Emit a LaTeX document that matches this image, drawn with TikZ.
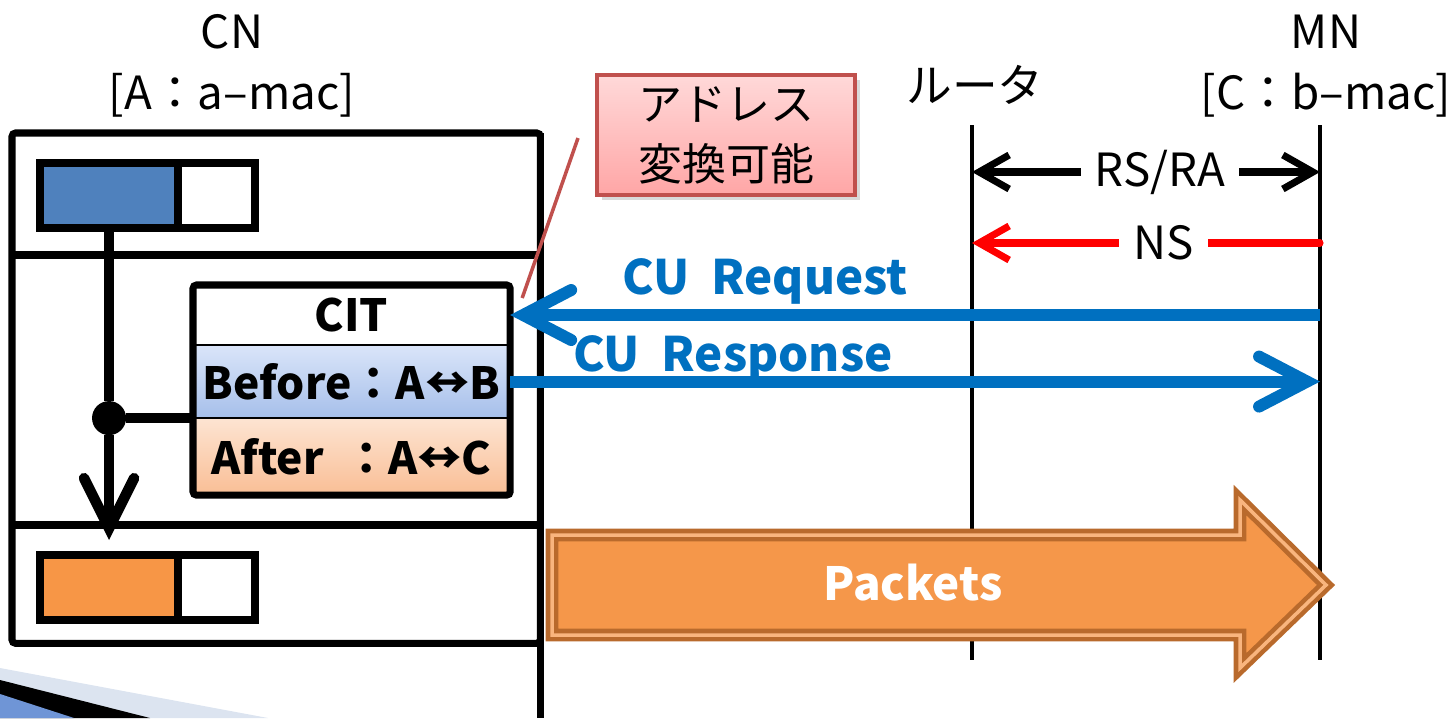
\documentclass[tikz,border=0pt]{standalone}
\usepackage{fontspec}
\setmainfont{Noto Sans CJK JP}
\usepackage{tikz}
\usetikzlibrary{arrows.meta,positioning,shadows,calc}

\definecolor{macblue}{HTML}{4F81BD}
\definecolor{macorange}{HTML}{F79646}
\definecolor{cublue}{HTML}{0070C0}
\definecolor{notered}{HTML}{C0504D}
\definecolor{pktedge}{HTML}{B96A2C}
\definecolor{pktfill}{HTML}{F5974A}
\definecolor{befTop}{HTML}{DAE5F9}
\definecolor{befBot}{HTML}{A6BFEA}
\definecolor{aftTop}{HTML}{FDE4D2}
\definecolor{aftBot}{HTML}{F9BE95}
\definecolor{decoblue}{HTML}{DCE4F0}
\definecolor{decomid}{HTML}{6F95D6}

\begin{document}
\begin{tikzpicture}[x=0.01cm, y=-0.01cm, every node/.style={align=center, inner sep=0pt, outer sep=0pt}]
\tikzset{
  lbl/.style={font=\fontsize{13}{17.5}\selectfont},
  cnframe/.style={draw=black, line width=2pt, rounded corners=1pt, minimum width=5.28cm, minimum height=5.10cm},
  frame/.style={draw=black, line width=2pt},
  macpart/.style={draw=black, line width=2.3pt, minimum width=1.38cm, minimum height=0.65cm},
  padpart/.style={draw=black, line width=2.3pt, fill=white, minimum width=0.77cm, minimum height=0.65cm},
  citrow/.style={draw=black, line width=0.8pt, minimum width=3.17cm, font=\bfseries\fontsize{12.6}{15}\selectfont},
  junction/.style={circle, fill=black, minimum size=0.34cm},
  life/.style={draw=black, line width=1.3pt},
  ctl/.style={draw=black, line width=2pt, line cap=round},
  cuflow/.style={draw=cublue, line width=3.4pt, -{Straight Barb[length=4.8mm, width=5mm, line cap=round]}},
  cutext/.style={text=cublue, font=\bfseries\fontsize{13.5}{15}\selectfont},
  msglbl/.style={fill=white, text=black, inner xsep=4pt, font=\fontsize{13}{15}\selectfont},
  pktarrow/.style={fill=pktfill, draw=pktedge, line width=1.3pt, double=macorange!70!white, double distance=1pt},
  pkttext/.style={text=white, font=\bfseries\fontsize{13}{16}\selectfont},
  callout/.style={draw=notered, line width=1pt, top color=red!15, bottom color=red!35!white, minimum width=2.58cm,
    minimum height=1.2cm, font=\fontsize{12.5}{17}\selectfont, drop shadow={opacity=0.3, shadow xshift=0.05cm, shadow yshift=-0.05cm}}
}
\useasboundingbox (0,0) rectangle (1449,718);

% slide decoration, lower left
\fill[decoblue] (0,668) -- (268,718) -- (0,718) -- cycle;
\fill[black] (0,680) -- (150,718) -- (0,718) -- cycle;
\fill[decomid] (0,694) -- (74,718) -- (0,718) -- cycle;

% CN side
\node[lbl] (cnlbl) at (232,66) {CN\\{}[A：a–mac]};
\node[cnframe, anchor=north west] (cnbox) at (12,133) {};
\draw[frame] (cnbox.north east) -- (cnbox.north east |- 0,718);
\draw[frame] (cnbox.west |- 0,255) -- (cnbox.east |- 0,255);
\draw[frame] (cnbox.west |- 0,525) -- (cnbox.east |- 0,525);

\node[macpart, fill=macblue, anchor=north west] (oldmac) at (40,163) {};
\node[padpart, anchor=west] (oldpad) at (oldmac.east) {};
\node[macpart, fill=macorange, anchor=north west] (newmac) at (40,555) {};
\node[padpart, anchor=west] (newpad) at (newmac.east) {};

% CIT table
\node[citrow, fill=white, minimum height=0.60cm, anchor=north west] (citttl) at (193,285) {CIT};
\node[citrow, top color=befTop, bottom color=befBot, minimum height=0.73cm, below=0pt of citttl] (citbef) {Before：A↔B};
\node[citrow, top color=aftTop, bottom color=aftBot, minimum height=0.77cm, below=0pt of citbef] (citaft) {After\ \ ：A↔C};
\draw[frame, rounded corners=1pt] (citttl.north west) rectangle (citaft.south east);

\node[junction] (junc) at (oldmac.south |- citbef.south) {};
\draw[draw=black, line width=3pt] (oldmac.south) -- (junc);
\draw[draw=black, line width=3pt, -{Straight Barb[length=5mm, width=5mm, line cap=round]}] (junc) -- ($(newmac.north)+(0,-15)$);
\draw[draw=black, line width=3pt] (junc) -- (citbef.south west);

% router and MN
\node[lbl] (rtlbl) at (975,85) {ルータ};
\node[lbl] (mnlbl) at (1326,66) {MN\\{}[C：b–mac]};
\coordinate (rtTop) at (972,125);
\coordinate (rtBot) at (972,660);
\coordinate (mnTop) at (1320,125);
\coordinate (mnBot) at (1320,660);
\draw[life] (rtTop) -- (rtBot);
\draw[life] (mnTop) -- (mnBot);

\draw[ctl, {Straight Barb[length=3mm, width=3.4mm]}-{Straight Barb[length=3mm, width=3.4mm]}] (rtTop |- 0,172) -- node[msglbl, pos=0.54] (rsra) {RS/RA} (mnTop |- 0,172);
\draw[ctl, red, -{Straight Barb[length=3mm, width=3.4mm]}] (mnTop |- 0,243) -- node[msglbl, pos=0.45] (ns) {NS} (rtTop |- 0,243);

\draw[cuflow] (mnTop |- citttl.east) -- node[cutext, pos=0.685, yshift=0.34cm] (cureq) {CU\ \ Request} (citttl.east);
\draw[cuflow] (citbef.east) -- node[cutext, pos=0.275, yshift=0.23cm] (cures) {CU\ \ Response} (mnTop |- citbef.east);

% packets
\draw[pktarrow] (552,535) -- (1240,535) -- (1240,500) -- (1326,585) -- (1240,668) -- (1240,635) -- (552,635) -- cycle;
\node[pkttext] (pktlbl) at (913,583) {Packets};

% callout
\node[callout, anchor=north west] (note) at (597,75) {アドレス\\変換可能};
\draw[notered, line width=1pt] ($(note.west)+(-19,3)$) -- ($(citttl.north east)+(12,13)$);
\end{tikzpicture}
\end{document}
